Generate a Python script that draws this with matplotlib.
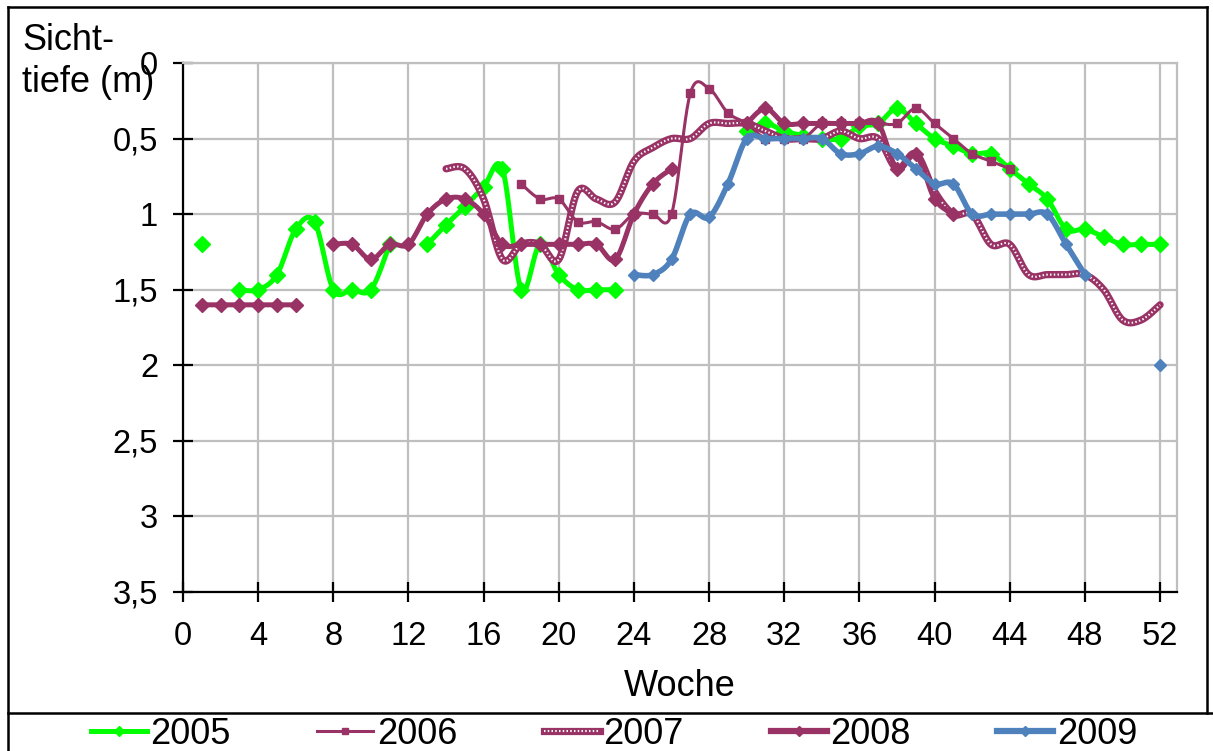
import numpy as np
import matplotlib.pyplot as plt
from matplotlib.lines import Line2D

plt.rcParams['font.family'] = ['Liberation Sans', 'DejaVu Sans']

nan = np.nan
weeks = np.arange(1, 53)

# Sichttiefe (m) per week
y2005 = [1.2, nan, 1.5, 1.5, 1.4, 1.1, 1.05, 1.5, 1.5, 1.5,
         1.2, nan, 1.2, 1.07, 0.95, 0.82, 0.7, 1.5, 1.2, 1.4,
         1.5, 1.5, 1.5, nan, nan, nan, nan, nan, nan, 0.45,
         0.4, 0.45, 0.48, 0.5, 0.5, 0.42, 0.4, 0.3, 0.4, 0.5,
         0.55, 0.6, 0.6, 0.7, 0.8, 0.9, 1.1, 1.1, 1.15, 1.2,
         1.2, 1.2]
y2006 = [nan] * 17 + [0.8, 0.9, 0.9,
         1.05, 1.05, 1.1, 1.0, 1.0, 1.0, 0.2, 0.17, 0.33, 0.4,
         0.5, 0.5, 0.5, 0.4, 0.4, 0.4, 0.4, 0.4, 0.3, 0.4,
         0.5, 0.6, 0.65, 0.7] + [nan] * 8
y2007 = [nan] * 13 + [0.7, 0.7, 0.9, 1.3, 1.2, 1.2, 1.3,
         0.85, 0.9, 0.92, 0.65, 0.56, 0.5, 0.5, 0.4, 0.4, 0.4,
         0.45, 0.5, 0.5, 0.5, 0.45, 0.5, 0.5, 0.7, 0.6, 0.85,
         1.0, 1.0, 1.2, 1.2, 1.4, 1.4, 1.4, 1.4, 1.5, 1.7,
         1.7, 1.6]
y2008 = [1.6, 1.6, 1.6, 1.6, 1.6, 1.6, nan, 1.2, 1.2, 1.3,
         1.2, 1.2, 1.0, 0.9, 0.9, 1.0, 1.2, 1.2, 1.2, 1.2,
         1.2, 1.2, 1.3, 1.0, 0.8, 0.7, nan, nan, nan, 0.4,
         0.3, 0.4, 0.4, 0.4, 0.4, 0.4, 0.4, 0.7, 0.6, 0.9,
         1.0] + [nan] * 11
y2009 = [nan] * 23 + [1.4, 1.4, 1.3, 1.0, 1.02, 0.8, 0.5,
         0.5, 0.5, 0.5, 0.5, 0.6, 0.6, 0.55, 0.6, 0.7, 0.8,
         0.8, 1.0, 1.0, 1.0, 1.0, 1.0, 1.2, 1.4, nan, nan,
         nan, 2.0]

green = '#00FF00'
maroon = '#993366'
blue = '#4F81BD'


def smooth(x, y, steps=12):
    # Excel-like smoothed line (Catmull-Rom), broken at gaps
    x = np.asarray(x, float)
    y = np.asarray(y, float)
    ok = ~np.isnan(y)
    sx, sy = [], []
    i = 0
    while i < len(y):
        if not ok[i]:
            i += 1
            continue
        j = i
        while j < len(y) and ok[j]:
            j += 1
        px, py = x[i:j], y[i:j]
        if len(px) > 1:
            qx = np.concatenate([[px[0]], px, [px[-1]]])
            qy = np.concatenate([[py[0]], py, [py[-1]]])
            t = np.linspace(0, 1, steps, endpoint=False)
            for k in range(1, len(qx) - 2):
                for q, out in ((qx, sx), (qy, sy)):
                    p0, p1, p2, p3 = q[k - 1], q[k], q[k + 1], q[k + 2]
                    out.extend(0.5 * (2 * p1 + (-p0 + p2) * t
                                      + (2 * p0 - 5 * p1 + 4 * p2 - p3) * t ** 2
                                      + (-p0 + 3 * p1 - 3 * p2 + p3) * t ** 3))
            sx.append(px[-1])
            sy.append(py[-1])
        sx.append(nan)
        sy.append(nan)
        i = j
    return np.array(sx), np.array(sy)


fig = plt.figure(figsize=(12.13, 7.51), dpi=100)
ax = fig.add_axes([183 / 1213, 1 - 592 / 751, (1177 - 183) / 1213, (592 - 63) / 751])

# 2005
sx, sy = smooth(weeks, y2005)
ax.plot(sx, sy, color=green, lw=3.6, solid_capstyle='round', zorder=3)
ax.plot(weeks, y2005, ls='none', marker='D', ms=8, color=green, zorder=3)
# 2006
sx, sy = smooth(weeks, y2006)
ax.plot(sx, sy, color=maroon, lw=2.2, zorder=4)
ax.plot(weeks, y2006, ls='none', marker='s', ms=5.5, color=maroon, zorder=4)
# 2007
sx, sy = smooth(weeks, y2007)
ax.plot(sx, sy, color=maroon, lw=5.2, solid_capstyle='round', zorder=3)
ax.plot(sx, sy, color='white', lw=1.5, ls=(0, (0.7, 1.1)), zorder=3)
# 2008
sx, sy = smooth(weeks, y2008)
ax.plot(sx, sy, color=maroon, lw=3.6, solid_capstyle='round', zorder=4)
ax.plot(weeks, y2008, ls='none', marker='D', ms=7, color=maroon, zorder=4)
# 2009
sx, sy = smooth(weeks, y2009)
ax.plot(sx, sy, color=blue, lw=4.0, solid_capstyle='round', zorder=5)
ax.plot(weeks, y2009, ls='none', marker='D', ms=6.5, color=blue, zorder=5)

ax.set_xlim(0, (1177 - 183) / 18.79)
ax.set_ylim(3.5, 0)
ax.set_xticks(np.arange(0, 53, 4))
yt = np.arange(0, 3.51, 0.5)
ax.set_yticks(yt)
ax.set_yticklabels([('%g' % v).replace('.', ',') for v in yt])
ax.grid(True, color='#BFBFBF', lw=1.6)
ax.set_axisbelow(True)
for s in ('top', 'right'):
    ax.spines[s].set_color('#BFBFBF')
    ax.spines[s].set_linewidth(1.6)
for s in ('left', 'bottom'):
    ax.spines[s].set_color('black')
    ax.spines[s].set_linewidth(1.6)
ax.tick_params(direction='inout', length=14, width=1.6, labelsize=23.5, color='black')
ax.tick_params(axis='x', pad=14)
ax.tick_params(axis='y', pad=11)
ax.set_xlabel('Woche', fontsize=26, labelpad=12)

fig.text(22 / 1213, 1 - 23 / 751, 'Sicht-\ntiefe (m)', fontsize=26,
         ha='left', va='top', linespacing=1.27)

# frame lines around chart and legend area
def fline(x0, y0, x1, y1):
    fig.add_artist(Line2D([x0 / 1213, x1 / 1213], [1 - y0 / 751, 1 - y1 / 751],
                          color='black', lw=1.8, transform=fig.transFigure))

fline(8, 7, 1207, 7)
fline(8, 7, 8, 751)
fline(1207, 7, 1207, 713)
fline(8, 713, 1213, 713)

handles = [
    Line2D([], [], color=green, lw=3.6, marker='D', ms=5),
    Line2D([], [], color=maroon, lw=2.2, marker='s', ms=5),
    (Line2D([], [], color=maroon, lw=5.2),
     Line2D([], [], color='white', lw=1.5, ls=(0, (0.7, 1.1)))),
    Line2D([], [], color=maroon, lw=4.5, marker='D', ms=5),
    Line2D([], [], color=blue, lw=4.5, marker='D', ms=5),
]
labels = ['2005', '2006', '2007', '2008', '2009']
fig.legend(handles, labels, loc='center', bbox_to_anchor=(614 / 1213, 1 - 734 / 751),
           ncol=5, frameon=False, fontsize=26, handlelength=1.55,
           handletextpad=0.1, columnspacing=2.4, borderpad=0)

fig.savefig('out.png', dpi=100)
